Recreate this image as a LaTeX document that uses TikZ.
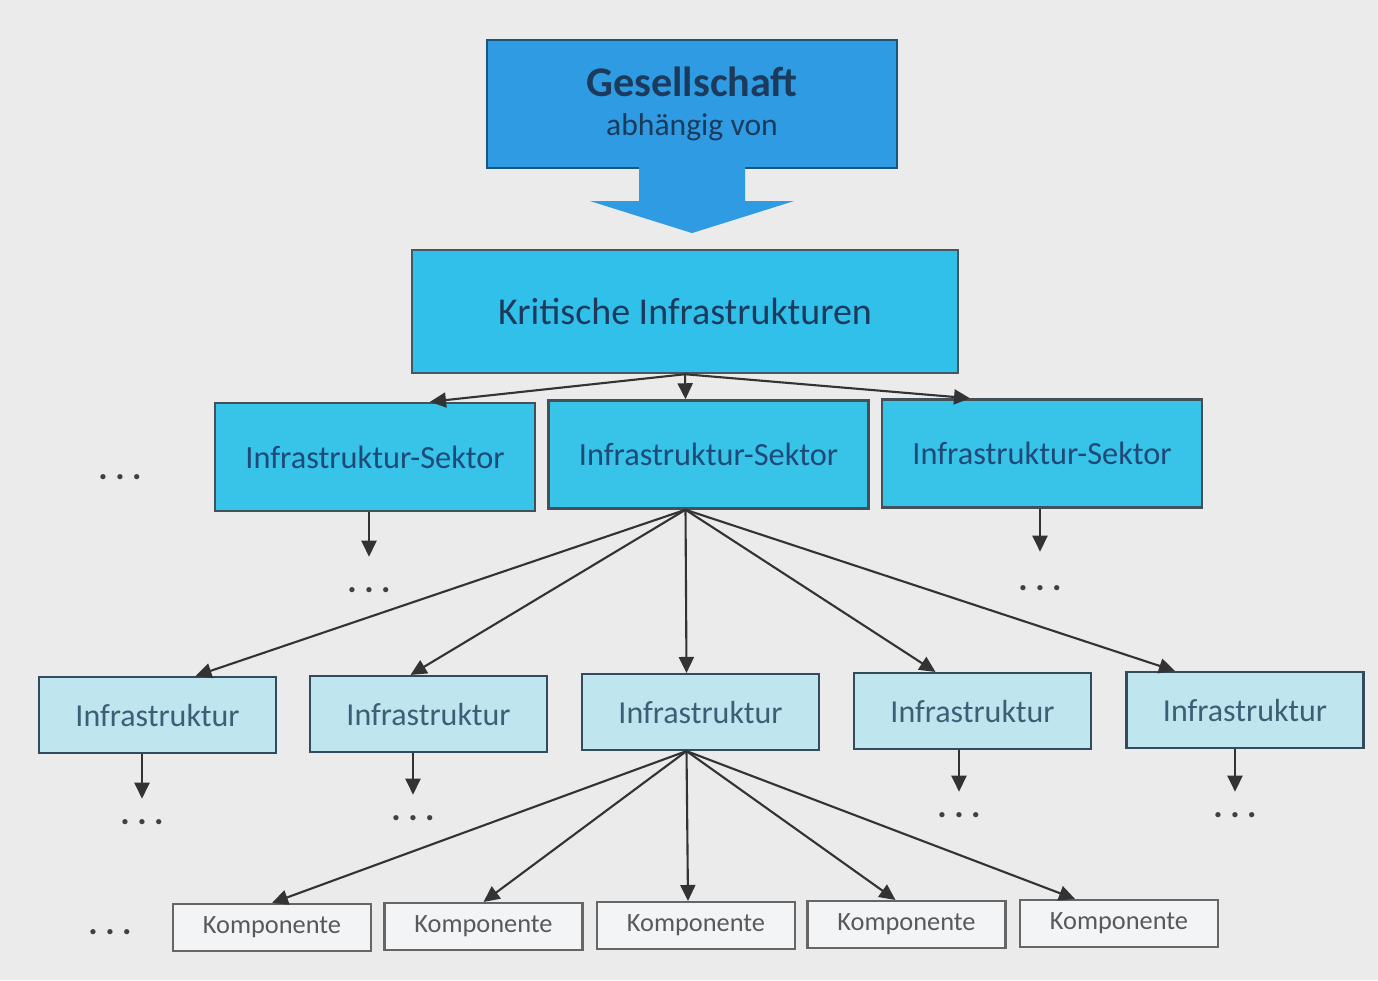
\documentclass[tikz,border=0pt]{standalone}
\usepackage{fontspec}
\setmainfont{Carlito}
\usepackage{xcolor}
\usetikzlibrary{arrows.meta, positioning, calc}

\definecolor{bggray}{HTML}{EBEBEB}
\definecolor{gesblue}{HTML}{2F9BE2}
\definecolor{kritblue}{HTML}{31C0EA}
\definecolor{sekblue}{HTML}{38C3E9}
\definecolor{infblue}{HTML}{BFE5EF}
\definecolor{kompgray}{HTML}{F2F4F5}
\definecolor{navytext}{HTML}{1B3A5C}
\definecolor{sektext}{HTML}{1F4A78}
\definecolor{slatetext}{HTML}{3E5E75}
\definecolor{linegray}{HTML}{333333}

\newcommand{\moredots}{.\hspace{0.75mm}.\hspace{0.75mm}.}

\begin{document}
\begin{tikzpicture}[
    gesbox/.style={rectangle, draw=gesblue!55!black, fill=gesblue, line width=0.6pt,
                   minimum width=4.1cm, minimum height=1.28cm, align=center, text=navytext},
    kritbox/.style={rectangle, draw=cyan!30!black, fill=kritblue, line width=0.7pt,
                    minimum width=5.46cm, minimum height=1.23cm, align=center,
                    text=navytext, font=\fontsize{10.8}{13}\selectfont},
    sektorbox/.style={rectangle, draw=cyan!25!black, fill=sekblue, line width=0.7pt,
                      minimum width=3.2cm, minimum height=1.08cm, align=center,
                      text=sektext, font=\fontsize{9.2}{11}\selectfont},
    infbox/.style={rectangle, draw=slatetext!80!black, fill=infblue, line width=0.6pt,
                   minimum width=2.37cm, minimum height=0.76cm, align=center,
                   text=slatetext, font=\fontsize{9.1}{11}\selectfont},
    kompbox/.style={rectangle, draw=gray!80!black, fill=kompgray, line width=0.6pt,
                    minimum width=1.98cm, minimum height=0.47cm, align=center,
                    text=black!65, font=\fontsize{7.5}{9}\selectfont},
    dots/.style={inner sep=0pt, text=black!75, font=\fontsize{10}{12}\bfseries},
    arr/.style={-{Triangle[length=1.6mm,width=1.5mm]}, line width=0.6pt, draw=linegray},
]

\fill[bggray] (0,0) rectangle (13.78,9.80);
\useasboundingbox (0,0) rectangle (13.78,9.80);

% top: society
\node[gesbox] (ges) at (6.92,8.76)
    {{\fontsize{12}{14}\selectfont\bfseries Gesellschaft}\\[-1pt]{\fontsize{9}{11}\selectfont abhängig von}};
\fill[gesblue] ($(ges.south)+(-0.53,0.03)$) -- ($(ges.south)+(-0.53,-0.32)$)
    -- ($(ges.south)+(-1.02,-0.32)$) -- ($(ges.south)+(0,-0.64)$)
    -- ($(ges.south)+(1.02,-0.32)$) -- ($(ges.south)+(0.53,-0.32)$)
    -- ($(ges.south)+(0.53,0.03)$) -- cycle;

\node[kritbox] (krit) at (6.85,6.685) {Kritische Infrastrukturen};

% sectors
\node[sektorbox] (sek1) at (3.75,5.23) {Infrastruktur-Sektor};
\node[sektorbox] (sek2) at (7.085,5.255) {Infrastruktur-Sektor};
\node[sektorbox] (sek3) at (10.42,5.265) {Infrastruktur-Sektor};

\node[dots] (dsekl) at (1.20,5.03) {\moredots};
\node[dots] (dsek1) at (3.69,3.90) {\moredots};
\node[dots] (dsek3) at (10.40,3.92) {\moredots};

% infrastructures
\node[infbox] (inf1) at (1.575,2.65) {Infrastruktur};
\node[infbox] (inf2) at (4.285,2.66) {Infrastruktur};
\node[infbox] (inf3) at (7.005,2.68) {Infrastruktur};
\node[infbox] (inf4) at (9.725,2.69) {Infrastruktur};
\node[infbox] (inf5) at (12.45,2.70) {Infrastruktur};

\node[dots] (dinf1) at (1.42,1.58) {\moredots};
\node[dots] (dinf2) at (4.13,1.62) {\moredots};
\node[dots] (dinf4) at (9.59,1.65) {\moredots};
\node[dots] (dinf5) at (12.35,1.65) {\moredots};

% components
\node[kompbox] (komp1) at (2.72,0.525) {Komponente};
\node[kompbox] (komp2) at (4.835,0.535) {Komponente};
\node[kompbox] (komp3) at (6.96,0.545) {Komponente};
\node[kompbox] (komp4) at (9.065,0.555) {Komponente};
\node[kompbox] (komp5) at (11.19,0.565) {Komponente};

\node[dots] (dkomp) at (1.10,0.48) {\moredots};

\draw[arr] (krit.south) -- ([xshift=5.5mm]sek1.north);
\draw[arr] (krit.south) -- ([xshift=-2.3mm]sek2.north);
\draw[arr] (krit.south) -- ([xshift=-7.2mm]sek3.north);

\draw[arr, shorten >=3mm] (sek1.south -| dsek1) -- (dsek1);
\draw[arr, shorten >=3.3mm] (sek3.south -| dsek3) -- (dsek3);

\draw[arr] ([xshift=-2.3mm]sek2.south) -- ([xshift=3.8mm]inf1.north);
\draw[arr] ([xshift=-2.3mm]sek2.south) -- ([xshift=-1.8mm]inf2.north);
\draw[arr] ([xshift=-2.3mm]sek2.south) -- ([xshift=-1.4mm]inf3.north);
\draw[arr] ([xshift=-2.3mm]sek2.south) -- ([xshift=-3.7mm]inf4.north);
\draw[arr] ([xshift=-2.3mm]sek2.south) -- ([xshift=-7mm]inf5.north);

\draw[arr, shorten >=2mm] (inf1.south -| dinf1) -- (dinf1);
\draw[arr, shorten >=2mm] (inf2.south -| dinf2) -- (dinf2);
\draw[arr, shorten >=2mm] (inf4.south -| dinf4) -- (dinf4);
\draw[arr, shorten >=2mm] (inf5.south -| dinf5) -- (dinf5);

\draw[arr] ([xshift=-1.4mm]inf3.south) -- (komp1.north);
\draw[arr] ([xshift=-1.4mm]inf3.south) -- (komp2.north);
\draw[arr] ([xshift=-1.4mm]inf3.south) -- ([xshift=-0.8mm]komp3.north);
\draw[arr] ([xshift=-1.4mm]inf3.south) -- ([xshift=-1.1mm]komp4.north);
\draw[arr] ([xshift=-1.4mm]inf3.south) -- ([xshift=-4.4mm]komp5.north);

\end{tikzpicture}
\end{document}
